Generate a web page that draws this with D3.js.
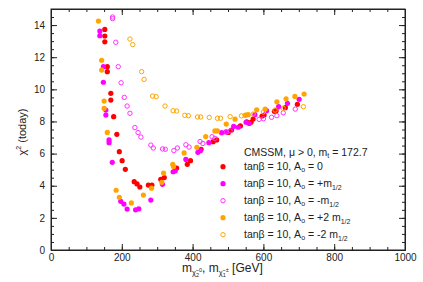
<!DOCTYPE html>
<html>
<head>
<meta charset="utf-8">
<script src="https://cdn.jsdelivr.net/npm/d3@7"></script>
<style>
  body { margin: 0; background: #fff; }
  svg { display: block; font-family: "Liberation Sans", Arial, Helvetica, sans-serif; }
  .axis text { font-size: 10px; fill: #222; }
  .axis path, .axis line { stroke: #222; }
</style>
</head>
<body>
<svg id="chart" width="423" height="282"></svg>
<script>
// [mass (GeV), chi2]
const seriesA0zero = [
  [152,13.73],[152,13.32],[152,12.96],[159,11.41],[159,11.10],[169,9.75],[169,9.33],
  [177,8.30],[186,7.20],[193,6.12],[201,5.56],[210,5.02],[235,4.25],[243,4.11],[251,3.92],
  [275,4.04],[285,4.04],[310,4.40],[320,4.51],[355,5.10],[385,5.33],[394,5.56],[424,6.27],
  [458,6.74],[468,6.85],[501,7.32],[510,7.47],[535,7.72],[553,7.98],[565,7.95],[571,8.15],
  [596,8.34],[602,8.40],[631,8.63],[636,8.67],[662,8.86],[696,9.07]
];
const seriesA0plus = [
  [138,13.63],[138,13.34],[148,11.41],[148,10.44],[155,8.71],[155,8.40],[164,6.85],[164,6.68],
  [173,5.46],[197,3.03],[206,2.86],[215,2.55],[239,2.50],[248,2.56],[282,3.11],[315,4.09],
  [345,4.87],[351,4.93],[381,5.64],[415,6.08],[422,6.18],[446,6.68],[482,7.30],[494,7.35],
  [516,7.69],[529,7.64],[551,7.95],[560,7.88],[576,8.42],[609,8.67],[643,8.92],[668,9.13],[701,9.38]
];
const seriesA0minus = [
  [174,14.50],[174,14.40],[183,12.93],[190,11.41],[198,10.41],[207,9.50],[215,8.96],[223,8.51],
  [237,7.62],[246,7.31],[254,7.03],[282,6.53],[289,6.35],[315,6.29],[323,6.27],[347,6.19],
  [357,6.35],[381,6.55],[390,6.41],[421,6.75],[429,6.63],[455,7.05],[463,6.95],[496,7.35],
  [506,7.41],[588,8.13],[600,8.17],[623,8.26],[638,8.36],[656,8.54],[690,8.77]
];
const seriesA0plus2 = [
  [134,14.25],[143,11.81],[143,11.20],[150,9.27],[150,8.82],[159,7.32],[184,3.72],[193,3.28],
  [227,2.93],[261,3.42],[284,3.85],[313,4.21],[318,4.79],[344,5.33],[346,5.20],[376,6.04],
  [412,6.39],[437,7.06],[463,7.41],[470,7.41],[495,7.84],[520,8.14],[551,8.40],[557,8.42],
  [581,8.73],[605,8.77],[638,9.22],[664,9.41],[689,9.56],[715,9.71]
];
const seriesA0minus2 = [
  [223,13.13],[231,12.78],[256,11.10],[263,10.62],[287,9.58],[297,9.54],[322,8.96],[345,8.67],
  [355,8.65],[378,8.38],[388,8.36],[414,8.28],[423,8.28],[447,8.25],[470,8.20],[479,8.20],
  [506,8.30],[538,8.35],[548,8.38],[571,8.46],[600,8.59],[633,8.71],[656,8.82],[713,8.92]
];

const xMajorTicks = [0, 200, 400, 600, 800, 1000];
const yMajorTicks = [0, 2, 4, 6, 8, 10, 12, 14];

const series = [
  { data: seriesA0zero,   color: "#ff0000", filled: true,  label: ["0", ""] },
  { data: seriesA0plus,   color: "#ff00ff", filled: true,  label: ["+m", "1/2"] },
  { data: seriesA0minus,  color: "#ff33ff", filled: false, label: ["-m", "1/2"] },
  { data: seriesA0plus2,  color: "#ffa500", filled: true,  label: ["+2 m", "1/2"] },
  { data: seriesA0minus2, color: "#ffa500", filled: false, label: ["-2 m", "1/2"] }
];

const margin = { top: 9, right: 18, bottom: 32, left: 51 };
const width = 423 - margin.left - margin.right;
const height = 282 - margin.top - margin.bottom;

const svg = d3.select("#chart");
const g = svg.append("g").attr("transform", `translate(${margin.left},${margin.top})`);

const x = d3.scaleLinear().domain([0, 1000]).range([0, width]);
const y = d3.scaleLinear().domain([0, 15]).range([height, 0]);

const xMinor = d3.range(0, 1001, 50);
const yMinor = d3.range(0, 15.01, 0.5);

// minor ticks, inward on all four sides
g.append("g").attr("class", "axis").attr("transform", `translate(0,${height})`)
  .call(d3.axisBottom(x).tickValues(xMinor).tickSize(-3).tickSizeOuter(0).tickFormat(""));
g.append("g").attr("class", "axis")
  .call(d3.axisTop(x).tickValues(xMinor).tickSize(-3).tickSizeOuter(0).tickFormat(""));
g.append("g").attr("class", "axis")
  .call(d3.axisLeft(y).tickValues(yMinor).tickSize(-3).tickSizeOuter(0).tickFormat(""));
g.append("g").attr("class", "axis").attr("transform", `translate(${width},0)`)
  .call(d3.axisRight(y).tickValues(yMinor).tickSize(-3).tickSizeOuter(0).tickFormat(""));

// major ticks
g.append("g").attr("class", "axis").attr("transform", `translate(0,${height})`)
  .call(d3.axisBottom(x).tickValues(xMajorTicks).tickSize(-6).tickSizeOuter(0).tickPadding(3.5).tickFormat(d3.format("d")));
g.append("g").attr("class", "axis")
  .call(d3.axisTop(x).tickValues(xMajorTicks).tickSize(-6).tickSizeOuter(0).tickFormat(""));
g.append("g").attr("class", "axis")
  .call(d3.axisLeft(y).tickValues(yMajorTicks).tickSize(-6).tickSizeOuter(0).tickPadding(6).tickFormat(d3.format("d")));
g.append("g").attr("class", "axis").attr("transform", `translate(${width},0)`)
  .call(d3.axisRight(y).tickValues(yMajorTicks).tickSize(-6).tickSizeOuter(0).tickFormat(""));

g.append("rect").attr("width", width).attr("height", height)
  .attr("fill", "none").attr("stroke", "#222").attr("stroke-width", 1);

// points
series.forEach(s => {
  g.append("g").selectAll("circle")
    .data(s.data)
    .join("circle")
      .attr("cx", d => x(d[0]))
      .attr("cy", d => y(d[1]))
      .attr("r", s.filled ? 2.6 : 2.2)
      .attr("fill", s.filled ? s.color : "none")
      .attr("stroke", s.color)
      .attr("stroke-width", s.filled ? 0 : 1);
});

// legend
const leg = svg.append("g");
const title = leg.append("text").attr("x", 244).attr("y", 155.5).attr("font-size", 10.5).attr("fill", "#222");
title.append("tspan").text("CMSSM, \u03bc > 0, m");
title.append("tspan").attr("font-size", 7).attr("dy", 2).text("t");
title.append("tspan").attr("dy", -2).text(" = 172.7");

series.forEach((s, i) => {
  const cy = 166.7 + i * 17;
  leg.append("circle")
    .attr("cx", 223).attr("cy", cy)
    .attr("r", s.filled ? 2.6 : 2.2)
    .attr("fill", s.filled ? s.color : "none")
    .attr("stroke", s.color)
    .attr("stroke-width", s.filled ? 0 : 1);
  const t = leg.append("text").attr("x", 244).attr("y", cy + 3.6).attr("font-size", 10.5).attr("fill", "#222");
  t.append("tspan").text("tan\u03b2 = 10, A");
  t.append("tspan").attr("font-size", 7).attr("dy", 2).text("o");
  t.append("tspan").attr("dy", -2).text(" = " + s.label[0]);
  if (s.label[1]) {
    t.append("tspan").attr("font-size", 7).attr("dy", 2.5).text(s.label[1]);
  }
});

// axis titles
const xt = svg.append("text").attr("x", 182).attr("y", 272).attr("font-size", 12).attr("fill", "#222");
xt.append("tspan").text("m");
xt.append("tspan").attr("font-size", 7.5).attr("dy", 3).text("\u03c7\u0303");
xt.append("tspan").attr("font-size", 5.5).attr("dy", 1.5).text("2");
xt.append("tspan").attr("font-size", 5.5).attr("dy", -4.5).text("0");
xt.append("tspan").attr("dy", 0).text(", m");
xt.append("tspan").attr("font-size", 7.5).attr("dy", 3).text("\u03c7\u0303");
xt.append("tspan").attr("font-size", 5.5).attr("dy", 1.5).text("1");
xt.append("tspan").attr("font-size", 5.5).attr("dy", -4.5).text("\u00b1");
xt.append("tspan").attr("dy", 0).text(" [GeV]");

const yt = svg.append("text")
  .attr("transform", "translate(26,132) rotate(-90)")
  .attr("text-anchor", "middle").attr("font-size", 11).attr("fill", "#222");
yt.append("tspan").text("\u03c7");
yt.append("tspan").attr("font-size", 7).attr("dy", -5).text("2");
yt.append("tspan").attr("dy", 5).text(" (today)");
</script>
</body>
</html>
